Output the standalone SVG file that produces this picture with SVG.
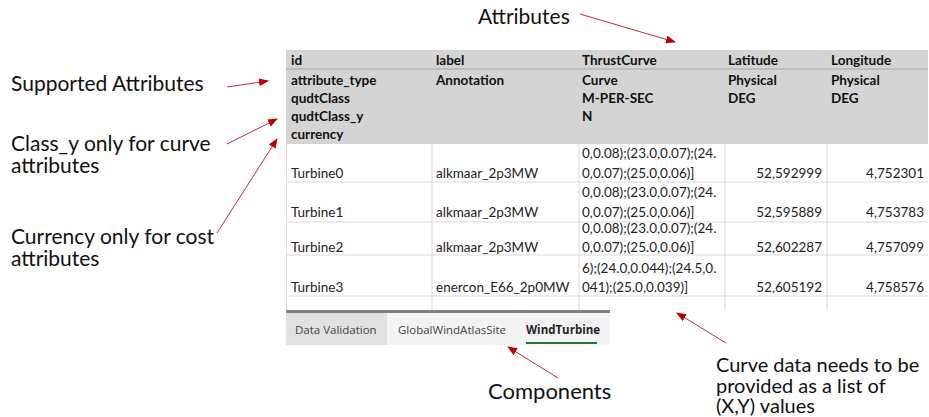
<svg xmlns="http://www.w3.org/2000/svg" width="929" height="417" viewBox="0 0 929 417">
<style>
.call{font-family:Lato,"Liberation Sans",sans-serif;font-size:21px;fill:#111}
.small{font-size:20px}
.hd{font-family:Lato,"Liberation Sans",sans-serif;font-size:13.5px;font-weight:bold;fill:#111}
.cell{font-family:Lato,"Liberation Sans",sans-serif;font-size:13.5px;fill:#222}
.num{font-family:Lato,"Liberation Sans",sans-serif;font-size:13.5px;fill:#222;text-anchor:end}
.tab{font-family:"Open Sans","Liberation Sans",sans-serif;font-size:11.5px;fill:#444}
.grid{stroke:#d9d9d9;stroke-width:1}
.arr{stroke:#b0303a;stroke-width:1;fill:none;marker-end:url(#ah)}
</style>
<defs>
<marker id="ah" markerUnits="userSpaceOnUse" markerWidth="10" markerHeight="8" refX="9" refY="4" orient="auto">
<path d="M0,0 L10,4 L0,8 z" fill="#c00000"/>
</marker>
</defs>
<rect width="929" height="417" fill="#ffffff"/>
<g id="table">
<rect x="286" y="50" width="642" height="94" fill="#d4d4d4"/>
<line x1="286" y1="69" x2="928" y2="69" stroke="#a8a8a8" stroke-width="1"/>
<rect x="286" y="144" width="642" height="166" fill="#ffffff"/>
<line class="grid" x1="286.5" y1="144" x2="286.5" y2="310"/>
<line class="grid" x1="432" y1="144" x2="432" y2="310"/>
<line class="grid" x1="579" y1="144" x2="579" y2="310"/>
<line class="grid" x1="725" y1="144" x2="725" y2="310"/>
<line class="grid" x1="827" y1="144" x2="827" y2="310"/>
<line class="grid" x1="286" y1="182" x2="928" y2="182"/>
<line class="grid" x1="286" y1="222" x2="928" y2="222"/>
<line class="grid" x1="286" y1="255" x2="928" y2="255"/>
<line class="grid" x1="286" y1="296" x2="928" y2="296"/>
<text class="hd" x="291" y="65">id</text>
<text class="hd" x="436" y="65">label</text>
<text class="hd" x="582" y="65">ThrustCurve</text>
<text class="hd" x="728" y="65">Latitude</text>
<text class="hd" x="831" y="65">Longitude</text>
<text class="hd" x="291" y="85">attribute_type</text>
<text class="hd" x="291" y="103">qudtClass</text>
<text class="hd" x="291" y="121">qudtClass_y</text>
<text class="hd" x="291" y="139">currency</text>
<text class="hd" x="436" y="85">Annotation</text>
<text class="hd" x="582" y="85">Curve</text>
<text class="hd" x="582" y="103">M-PER-SEC</text>
<text class="hd" x="582" y="121">N</text>
<text class="hd" x="728" y="85">Physical</text>
<text class="hd" x="728" y="103">DEG</text>
<text class="hd" x="831" y="85">Physical</text>
<text class="hd" x="831" y="103">DEG</text>
<text class="cell" x="291" y="178">Turbine0</text>
<text class="cell" x="436" y="178">alkmaar_2p3MW</text>
<text class="cell" x="582" y="158">0,0.08);(23.0,0.07);(24.</text>
<text class="cell" x="582" y="178">0,0.07);(25.0,0.06)]</text>
<text class="num" x="822" y="178">52,592999</text>
<text class="num" x="924" y="178">4,752301</text>
<text class="cell" x="291" y="217">Turbine1</text>
<text class="cell" x="436" y="217">alkmaar_2p3MW</text>
<text class="cell" x="582" y="197">0,0.08);(23.0,0.07);(24.</text>
<text class="cell" x="582" y="217">0,0.07);(25.0,0.06)]</text>
<text class="num" x="822" y="217">52,595889</text>
<text class="num" x="924" y="217">4,753783</text>
<text class="cell" x="291" y="252">Turbine2</text>
<text class="cell" x="436" y="252">alkmaar_2p3MW</text>
<text class="cell" x="582" y="233">0,0.08);(23.0,0.07);(24.</text>
<text class="cell" x="582" y="252">0,0.07);(25.0,0.06)]</text>
<text class="num" x="822" y="252">52,602287</text>
<text class="num" x="924" y="252">4,757099</text>
<text class="cell" x="291" y="292">Turbine3</text>
<text class="cell" x="436" y="292">enercon_E66_2p0MW</text>
<text class="cell" x="582" y="273">6);(24.0,0.044);(24.5,0.</text>
<text class="cell" x="582" y="292">041);(25.0,0.039)]</text>
<text class="num" x="822" y="292">52,605192</text>
<text class="num" x="924" y="292">4,758576</text>
</g>
<g id="tabs">
<rect x="286" y="310" width="324" height="3" fill="#808080"/>
<rect x="286" y="313" width="101" height="32" fill="#e1e1e1"/>
<rect x="387" y="313" width="223" height="32" fill="#f3f3f3"/>
<text class="tab" x="295" y="334">Data Validation</text>
<text class="tab" x="398" y="334">GlobalWindAtlasSite</text>
<text class="tab" x="526" y="334" style="font-weight:bold;fill:#222">WindTurbine</text>
<rect x="526" y="342" width="71" height="2" fill="#217346"/>
</g>
<g id="labels">
<text class="call" x="478" y="24">Attributes</text>
<text class="call" x="11" y="91">Supported Attributes</text>
<text class="call" x="11" y="151">Class_y only for curve</text>
<text class="call" x="11" y="173">attributes</text>
<text class="call" x="11" y="244">Currency only for cost</text>
<text class="call" x="11" y="266">attributes</text>
<text class="call" x="488" y="399" style="font-size:22px">Components</text>
<text class="call small" x="716" y="372">Curve data needs to be</text>
<text class="call small" x="716" y="393">provided as a list of</text>
<text class="call small" x="716" y="413">(X,Y) values</text>
</g>
<g id="connectors">
<line class="arr" x1="580" y1="14" x2="675" y2="42"/>
<line class="arr" x1="227" y1="87" x2="268" y2="81"/>
<line class="arr" x1="227" y1="144" x2="277" y2="119"/>
<line class="arr" x1="217" y1="233" x2="277" y2="139"/>
<line class="arr" x1="558" y1="378" x2="508" y2="347"/>
<line class="arr" x1="726" y1="343" x2="677" y2="313"/>
</g>
</svg>
